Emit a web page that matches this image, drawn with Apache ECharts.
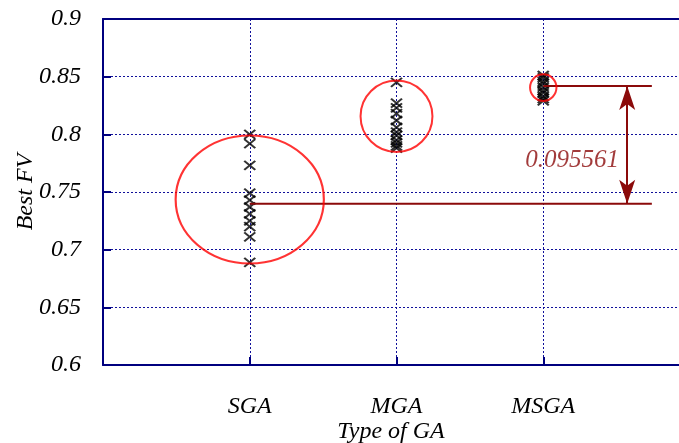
<!DOCTYPE html>
<html>
<head>
<meta charset="utf-8">
<style>
html,body{margin:0;padding:0;background:#fff;}
#chart{width:679px;height:443px;}
</style>
<script src="https://cdn.jsdelivr.net/npm/echarts@6/dist/echarts.min.js"></script>
</head>
<body>
<div id="chart"></div>
<script>
// ---- data ----
const categories = ['SGA', 'MGA', 'MSGA'];
const categoryPos = [1, 2, 3];
const yTickLabels = ['0.6', '0.65', '0.7', '0.75', '0.8', '0.85', '0.9'];
const sgaValues = [0.800, 0.792, 0.773, 0.749, 0.743, 0.737, 0.731, 0.725, 0.720, 0.711, 0.689];
const mgaValues = [0.845, 0.827, 0.823, 0.818, 0.812, 0.806, 0.802, 0.799, 0.795, 0.7925, 0.790, 0.788];
const msgaValues = [0.851, 0.849, 0.846, 0.844, 0.841, 0.838, 0.836, 0.833, 0.831, 0.829];
// circle centres (category position, value) and their radii in axis units
const circleCenters = [[1, 0.7435], [2, 0.8157], [3, 0.8405]];
const circleRadiusX = [0.505, 0.245, 0.09];
const circleRadiusY = [0.0555, 0.031, 0.0115];
const bestLevel = 0.8418;
const sgaLevel = 0.7398;
const lineEndX = 3.74;
const arrowX = 3.572;
const diffLabel = '0.095561';
const diffLabelPos = [3.196, 0.7775];

// ---- chart ----
const chart = echarts.init(document.getElementById('chart'));
const navy = '#00007f';
const dred = '#8b0a0a';
const serif = '"Liberation Serif", "DejaVu Serif", serif';
const crossSym = 'path://M0,0L10,8M10,0L0,8';
const ellipseSym = 'path://M0,50A50,50,0,1,1,100,50A50,50,0,1,1,0,50Z';

const gridLeft = 103, gridTop = 19, gridW = 576, gridH = 346;
const xMin = 0, xMax = 3.925, yMin = 0.6, yMax = 0.9;
const pxPerX = gridW / (xMax - xMin), pxPerY = gridH / (yMax - yMin);

function pts(pos, vals) { return vals.map(v => [pos, v]); }
const crossStyle = {color: 'none', borderColor: '#000', borderWidth: 2};
const gridLineStyle = {color: '#10109a', width: 1, type: [2, 2]};
const txt = {color: '#000', fontFamily: serif, fontStyle: 'italic', fontSize: 24};

const option = {
  animation: false,
  backgroundColor: '#fff',
  grid: {left: gridLeft, top: gridTop, width: gridW, height: gridH, show: false,
         containLabel: false, outerBoundsMode: 'none'},
  xAxis: [{
    type: 'value', min: xMin, max: xMax, interval: 1,
    axisLine: {show: true, onZero: false, lineStyle: {color: navy, width: 2}},
    axisTick: {show: true, inside: true, length: 8, lineStyle: {color: navy, width: 2}},
    splitLine: {show: true, lineStyle: gridLineStyle},
    axisLabel: Object.assign({margin: 30, showMaxLabel: false,
      formatter: function (v) { const i = categoryPos.indexOf(v); return i >= 0 ? categories[i] : ''; }
    }, txt),
    name: 'Type of GA', nameLocation: 'middle', nameGap: 55, nameMoveOverlap: false,
    nameTextStyle: txt
  }, {
    type: 'value', position: 'top', min: xMin, max: xMax,
    axisLine: {show: true, onZero: false, lineStyle: {color: navy, width: 2}},
    axisTick: {show: false}, axisLabel: {show: false}, splitLine: {show: false}
  }],
  yAxis: {
    type: 'value', min: yMin, max: yMax, interval: 0.05,
    axisLine: {show: true, onZero: false, lineStyle: {color: navy, width: 2}},
    axisTick: {show: true, inside: true, length: 8, lineStyle: {color: navy, width: 2}},
    splitLine: {show: true, lineStyle: gridLineStyle},
    axisLabel: Object.assign({margin: 22,
      formatter: function (v) { return yTickLabels[Math.round((v - yMin) / 0.05)]; }
    }, txt),
    name: 'Best FV', nameLocation: 'middle', nameGap: 65, nameRotate: 90, nameMoveOverlap: false,
    nameTextStyle: txt
  },
  series: [
    {type: 'scatter', symbol: crossSym, symbolSize: [11, 9], itemStyle: crossStyle,
     data: pts(categoryPos[0], sgaValues), z: 3},
    {type: 'scatter', symbol: crossSym, symbolSize: [11, 9], itemStyle: crossStyle,
     data: pts(categoryPos[1], mgaValues), z: 3},
    {type: 'scatter', symbol: crossSym, symbolSize: [11, 9], itemStyle: crossStyle,
     data: pts(categoryPos[2], msgaValues), z: 3},
    {type: 'line', data: [[categoryPos[0], sgaLevel], [lineEndX, sgaLevel]], symbol: 'none',
     lineStyle: {color: dred, width: 2}, z: 4},
    {type: 'line', data: [[categoryPos[2], bestLevel], [lineEndX, bestLevel]], symbol: 'none',
     lineStyle: {color: dred, width: 2}, z: 4,
     markLine: {
       silent: true, symbol: ['arrow', 'arrow'], symbolSize: [12, 24],
       label: {show: false},
       lineStyle: {color: dred, width: 2, type: 'solid'},
       data: [[{coord: [arrowX, bestLevel]}, {coord: [arrowX, sgaLevel]}]]
     }},
    {type: 'scatter', symbol: ellipseSym, z: 5,
     itemStyle: {color: 'none', borderColor: '#ff0000', borderWidth: 2},
     data: circleCenters.map((c, i) => ({
       value: c,
       symbolSize: [2 * circleRadiusX[i] * pxPerX, 2 * circleRadiusY[i] * pxPerY]
     }))},
    {type: 'scatter', symbolSize: 1, itemStyle: {color: 'rgba(0,0,0,0)'}, z: 6,
     data: [diffLabelPos],
     label: {show: true, position: 'inside', formatter: diffLabel, color: dred,
             fontFamily: serif, fontStyle: 'italic', fontSize: 25}}
  ]
};
chart.setOption(option);
</script>
</body>
</html>
